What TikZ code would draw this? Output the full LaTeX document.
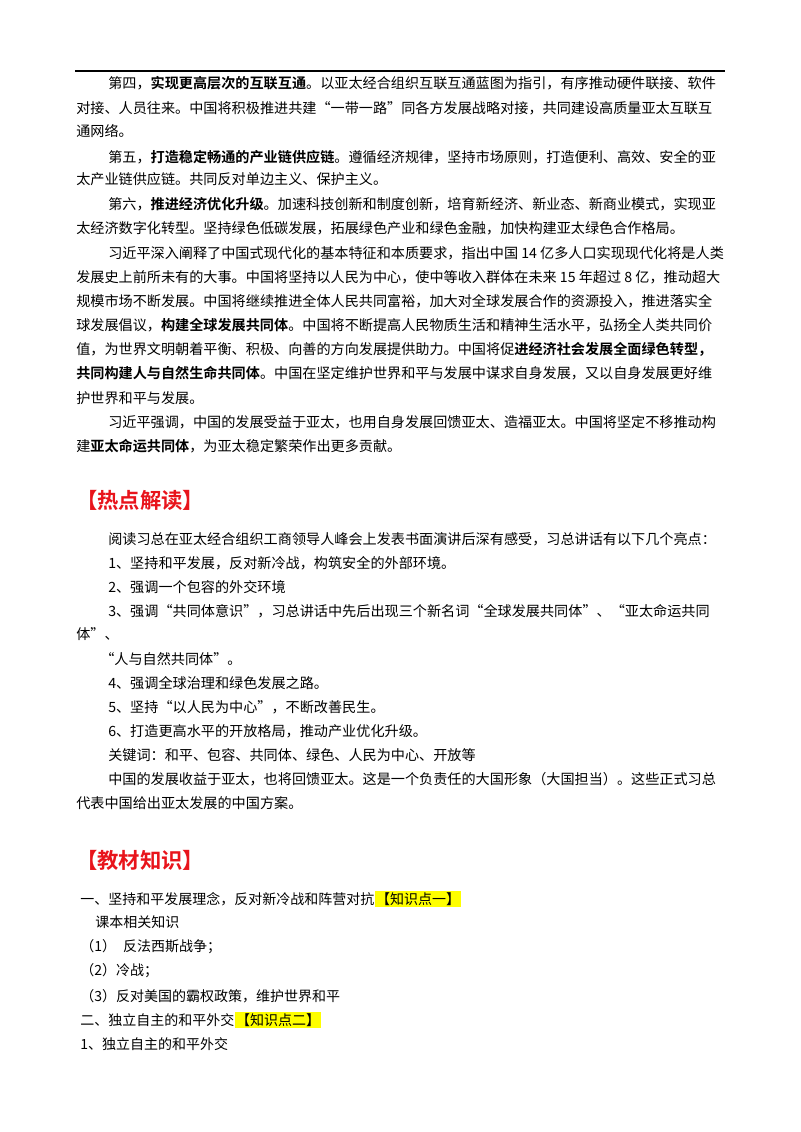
\documentclass[tikz,border=0pt]{standalone}
\usepackage{fontspec}
\setmainfont{Noto Sans CJK SC}[BoldFont={Noto Sans CJK SC Bold}]
\usetikzlibrary{positioning}
\definecolor{titelrot}{HTML}{E8141B}
\definecolor{markgelb}{HTML}{FFFF00}

\begin{document}
\begin{tikzpicture}[x=0.75pt,y=-0.75pt,
        txt/.style={anchor=west, inner sep=0pt, font=\fontsize{10.6}{12}\selectfont},
        txtklein/.style={anchor=west, inner sep=0pt, font=\fontsize{10.5}{12}\selectfont},
        kopf/.style={anchor=west, inner sep=0pt, text=titelrot, font=\bfseries\fontsize{16}{18}\selectfont},
        marke/.style={anchor=west, inner sep=1pt, fill=markgelb, font=\fontsize{10.5}{12}\selectfont}]
        \useasboundingbox (0,0) rectangle (800,1132);

        \coordinate (RA) at (75, 71);
        \coordinate (RB) at (725, 71);
        \draw[line width=0.8pt] (RA) -- (RB);

        % erster Block
        \node[txt] (a1) at (108, 83) {第四，\textbf{实现更高层次的互联互通}。以亚太经合组织互联互通蓝图为指引，有序推动硬件联接、软件};
        \node[txt] (a2) at (76, 108) {对接、人员往来。中国将积极推进共建“一带一路”同各方发展战略对接，共同建设高质量亚太互联互};
        \node[txt] (a3) at (76, 131) {通网络。};
        \node[txt] (a4) at (108, 157) {第五，\textbf{打造稳定畅通的产业链供应链}。遵循经济规律，坚持市场原则，打造便利、高效、安全的亚};
        \node[txt] (a5) at (76, 179) {太产业链供应链。共同反对单边主义、保护主义。};
        \node[txt] (a6) at (108, 204) {第六，\textbf{推进经济优化升级}。加速科技创新和制度创新，培育新经济、新业态、新商业模式，实现亚};
        \node[txt] (a7) at (76, 228) {太经济数字化转型。坚持绿色低碳发展，拓展绿色产业和绿色金融，加快构建亚太绿色合作格局。};
        \node[txt] (a8) at (108, 253) {习近平深入阐释了中国式现代化的基本特征和本质要求，指出中国 14 亿多人口实现现代化将是人类};
        \node[txt] (a9) at (76, 277) {发展史上前所未有的大事。中国将坚持以人民为中心，使中等收入群体在未来 15 年超过 8 亿，推动超大};
        \node[txt] (a10) at (76, 301) {规模市场不断发展。中国将继续推进全体人民共同富裕，加大对全球发展合作的资源投入，推进落实全};
        \node[txt] (a11) at (76, 325) {球发展倡议，\textbf{构建全球发展共同体}。中国将不断提高人民物质生活和精神生活水平，弘扬全人类共同价};
        \node[txt] (a12) at (76, 349) {值，为世界文明朝着平衡、积极、向善的方向发展提供助力。中国将促\textbf{进经济社会发展全面绿色转型，}};
        \node[txt] (a13) at (76, 373) {\textbf{共同构建人与自然生命共同体}。中国在坚定维护世界和平与发展中谋求自身发展，又以自身发展更好维};
        \node[txt] (a14) at (76, 398) {护世界和平与发展。};
        \node[txt] (a15) at (108, 422) {习近平强调，中国的发展受益于亚太，也用自身发展回馈亚太、造福亚太。中国将坚定不移推动构};
        \node[txt] (a16) at (76, 446) {建\textbf{亚太命运共同体}，为亚太稳定繁荣作出更多贡献。};

        % zweiter Block
        \node[kopf] (K1) at (76, 500) {【热点解读】};
        \node[txt] (b1) at (108, 539) {阅读习总在亚太经合组织工商领导人峰会上发表书面演讲后深有感受，习总讲话有以下几个亮点：};
        \node[txt] (b2) at (108, 563) {1、坚持和平发展，反对新冷战，构筑安全的外部环境。};
        \node[txt] (b3) at (108, 587) {2、强调一个包容的外交环境};
        \node[txt] (b4) at (108, 611) {3、强调“共同体意识”，习总讲话中先后出现三个新名词“全球发展共同体”、“亚太命运共同};
        \node[txt] (b5) at (76, 634) {体”、};
        \node[txt] (b6) at (100, 659) {“人与自然共同体”。};
        \node[txt] (b7) at (108, 683) {4、强调全球治理和绿色发展之路。};
        \node[txt] (b8) at (108, 707) {5、坚持“以人民为中心”，不断改善民生。};
        \node[txt] (b9) at (108, 731) {6、打造更高水平的开放格局，推动产业优化升级。};
        \node[txt] (b10) at (108, 755) {关键词：和平、包容、共同体、绿色、人民为中心、开放等};
        \node[txt] (b11) at (108, 779) {中国的发展收益于亚太，也将回馈亚太。这是一个负责任的大国形象（大国担当）。这些正式习总};
        \node[txt] (b12) at (76, 803) {代表中国给出亚太发展的中国方案。};

        % dritter Block
        \node[kopf] (K2) at (76, 860) {【教材知识】};
        \node[txtklein] (c1) at (80, 899) {一、坚持和平发展理念，反对新冷战和阵营对抗};
        \node[marke, right=0pt of c1] (m1) {【知识点一】};
        \node[txtklein] (c2) at (95, 922) {课本相关知识};
        \node[txtklein] (c3) at (80, 947) {（1）\enspace 反法西斯战争；};
        \node[txtklein] (c4) at (80, 971) {（2）冷战；};
        \node[txtklein] (c5) at (80, 996) {（3）反对美国的霸权政策，维护世界和平};
        \node[txtklein] (c6) at (80, 1020) {二、独立自主的和平外交};
        \node[marke, right=0pt of c6] (m2) {【知识点二】};
        \node[txtklein] (c7) at (80, 1044) {1、独立自主的和平外交};
    \end{tikzpicture}
\end{document}
